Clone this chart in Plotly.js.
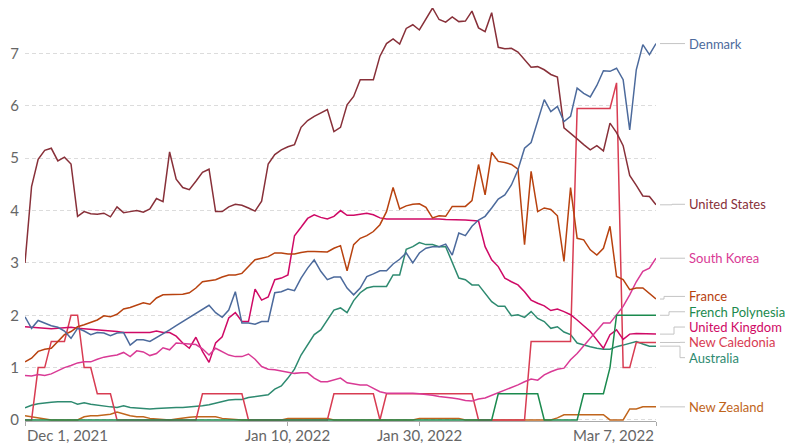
<!DOCTYPE html>
<html>
<head>
<meta charset="utf-8">
<script src="https://cdn.plot.ly/plotly-3.0.1.min.js"></script>
<style>
  html, body { margin: 0; padding: 0; background: #fff; }
  #chart { width: 786px; height: 443px; }
</style>
</head>
<body>
<div id="chart"></div>
<script>
// ---- data ----
const startDate = '2021-12-01';
const nDays = 97;

const countries = ['New Zealand', 'Australia', 'New Caledonia', 'United Kingdom', 'South Korea', 'France', 'French Polynesia', 'United States', 'Denmark'];

const denmark = [1.97,1.75,1.90,1.85,1.80,1.77,1.70,1.56,1.75,1.70,
1.63,1.67,1.66,1.61,1.66,1.67,1.43,1.53,1.53,1.50,
1.57,1.65,1.72,1.80,1.88,1.95,2.03,2.11,2.19,2.05,
1.96,2.10,2.45,1.85,1.85,1.83,1.88,1.88,2.43,2.45,
2.50,2.47,2.71,2.90,3.06,2.84,2.68,2.73,2.73,2.52,
2.39,2.52,2.74,2.79,2.85,2.85,2.98,3.07,3.19,3.00,
3.19,3.28,3.31,3.31,3.36,3.15,3.57,3.52,3.70,3.82,
3.89,4.05,4.22,4.30,4.49,4.78,5.19,5.30,5.70,6.12,
5.89,5.99,5.70,5.80,6.34,6.24,6.17,6.39,6.67,6.66,
6.72,6.50,5.54,6.69,7.17,6.98,7.19];

const unitedStates = [3.00,4.46,4.98,5.15,5.19,4.95,5.02,4.89,3.89,3.98,
3.94,3.93,3.95,3.88,4.07,3.96,3.98,4.00,3.97,4.03,
4.23,4.17,5.12,4.60,4.44,4.40,4.56,4.73,4.79,3.98,
3.98,4.07,4.12,4.10,4.05,3.99,4.18,4.89,5.07,5.16,
5.22,5.26,5.59,5.72,5.80,5.86,5.93,5.51,5.59,6.02,
6.18,6.50,6.50,6.50,6.95,7.19,7.28,7.18,7.48,7.55,
7.45,7.65,7.87,7.65,7.60,7.70,7.61,7.62,7.81,7.49,
7.42,7.78,7.12,7.09,7.10,7.03,6.88,6.74,6.75,6.69,
6.60,6.55,5.58,5.48,5.37,5.26,5.16,5.24,5.14,5.67,
5.49,5.24,4.67,4.48,4.28,4.27,4.11];

const southKorea = [0.85,0.84,0.87,0.85,0.88,0.94,1.00,1.04,1.09,1.11,
1.11,1.16,1.20,1.22,1.24,1.29,1.21,1.32,1.30,1.23,
1.27,1.38,1.34,1.47,1.46,1.45,1.44,1.36,1.24,1.37,
1.30,1.24,1.21,1.21,1.26,1.16,1.02,0.97,0.96,0.94,
0.92,0.89,0.90,0.90,0.80,0.73,0.73,0.76,0.80,0.71,
0.69,0.67,0.67,0.61,0.54,0.51,0.51,0.52,0.52,0.51,
0.50,0.49,0.47,0.45,0.44,0.42,0.40,0.37,0.36,0.40,
0.42,0.47,0.52,0.57,0.61,0.67,0.73,0.78,0.76,0.86,
0.92,0.97,0.99,1.15,1.27,1.41,1.56,1.69,1.85,1.85,
2.01,2.17,2.39,2.64,2.84,2.90,3.09];

const unitedKingdom = [1.78,1.77,1.76,1.75,1.74,1.75,1.76,1.77,1.75,1.74,
1.74,1.73,1.72,1.70,1.69,1.67,1.67,1.67,1.68,1.67,
1.70,1.67,1.67,1.60,1.47,1.37,1.58,1.31,1.10,1.47,
1.59,1.95,2.05,1.88,1.88,2.50,2.29,2.35,2.68,2.71,
2.77,3.52,3.68,3.85,3.92,3.87,3.84,3.89,4.00,3.91,
3.91,3.93,3.95,3.92,3.86,3.84,3.84,3.84,3.84,3.85,
3.84,3.84,3.85,3.84,3.83,3.83,3.82,3.82,3.81,3.80,
3.31,3.06,2.93,2.71,2.64,2.58,2.45,2.29,2.23,2.18,
2.09,2.12,2.07,2.01,1.91,1.80,1.69,1.53,1.37,1.63,
1.72,1.54,1.64,1.65,1.65,1.65,1.64];

const france = [1.11,1.18,1.31,1.35,1.37,1.50,1.63,1.69,1.78,1.82,
1.86,1.91,1.99,1.97,2.02,2.12,2.15,2.19,2.24,2.21,
2.33,2.39,2.39,2.39,2.40,2.43,2.52,2.64,2.66,2.68,
2.73,2.77,2.77,2.80,2.93,3.06,3.09,3.12,3.19,3.19,
3.17,3.17,3.20,3.22,3.22,3.22,3.21,3.28,3.33,2.85,
3.35,3.47,3.52,3.60,3.73,3.98,4.44,4.03,4.09,4.12,
4.13,4.06,3.86,3.90,3.89,4.08,4.08,4.08,4.19,4.88,
4.30,5.11,4.94,4.92,4.88,4.79,3.35,4.75,3.98,4.05,
4.02,3.90,3.03,4.44,3.47,3.44,3.25,3.15,3.28,3.70,
2.74,2.68,2.49,2.52,2.52,2.42,2.31];

const australia = [0.23,0.28,0.31,0.33,0.34,0.35,0.35,0.35,0.30,0.33,
0.30,0.28,0.26,0.25,0.24,0.27,0.24,0.23,0.21,0.21,
0.22,0.23,0.24,0.24,0.24,0.25,0.25,0.27,0.29,0.32,
0.35,0.38,0.39,0.39,0.43,0.45,0.46,0.48,0.59,0.65,
0.80,0.97,1.24,1.43,1.63,1.72,1.91,2.10,2.14,2.05,
2.28,2.43,2.52,2.55,2.55,2.55,2.77,2.77,3.26,3.31,
3.39,3.35,3.35,3.31,3.31,3.00,2.71,2.68,2.58,2.58,
2.42,2.26,2.17,2.17,1.99,2.01,1.96,2.07,1.94,1.88,
1.75,1.78,1.68,1.63,1.47,1.43,1.40,1.37,1.35,1.35,
1.40,1.43,1.46,1.50,1.45,1.41,1.41];

const frenchPolynesia = [0,0,0,0,0,0,0,0,0,0,
0,0,0,0,0,0,0,0,0,0,
0,0,0,0,0,0,0,0,0,0,
0,0,0,0,0,0,0,0,0,0,
0,0,0,0,0,0,0,0,0,0,
0,0,0,0,0,0,0,0,0,0,
0,0,0,0,0,0,0,0,0,0,
0,0,0.5,0.5,0.5,0.5,0.5,0.5,0.5,0,
0,0,0,0,0,0.5,0.5,0.5,0.5,1,
2,2,2,2,2,2,2];

const newCaledonia = [0,0,1,1,1.5,1.5,1.5,2,2,1,
1,0.5,0.5,0.5,0,0,0,0,0,0,
0,0,0,0,0,0,0,0.5,0.5,0.5,
0.5,0.5,0.5,0.5,0,0,0,0,0,0,
0,0,0,0,0,0,0,0.5,0.5,0.5,
0.5,0.5,0.5,0.5,0,0.5,0.5,0.5,0.5,0.5,
0.5,0.5,0.5,0.5,0.5,0.5,0.5,0.5,0.5,0,
0,0,0,0,0,0,0,1.5,1.5,1.5,
1.5,1.5,1.5,1.5,5.95,5.95,5.95,5.95,5.95,5.95,
6.44,1,1,1.48,1.48,1.48,1.48];

const newZealand = [0.08,0.06,0.04,0.02,0,0,0,0,0,0.06,
0.08,0.08,0.10,0.11,0.15,0.11,0.08,0.06,0.06,0.03,
0.02,0,0,0.02,0.04,0.05,0.06,0.06,0.06,0.06,
0.03,0.02,0,0,0,0,0,0,0,0,
0.03,0.03,0.03,0.03,0.03,0.03,0.03,0,0,0,
0,0,0,0,0,0,0,0,0,0,
0.03,0.03,0.03,0.03,0.03,0.03,0.03,0,0,0,
0,0,0,0,0,0,0,0,0,0,
0,0.04,0.10,0.10,0.10,0.10,0.10,0.10,0.10,0,
0,0,0.21,0.21,0.25,0.25,0.25];

const xTickDates = ['2021-12-01', '2022-01-10', '2022-01-30', '2022-03-07'];
const xTickLabels = ['Dec 1, 2021', 'Jan 10, 2022', 'Jan 30, 2022', 'Mar 7, 2022'];
const yTicks = [0, 1, 2, 3, 4, 5, 6, 7];

// ---- styling / layout helpers (not data) ----
const seriesList = [newZealand, australia, newCaledonia, unitedKingdom, southKorea, france, frenchPolynesia, unitedStates, denmark];
const colors = ['#C0651C', '#2E8A70', '#D83C52', '#CF0A66', '#D93A95', '#B8420F', '#1B8A4E', '#883039', '#4C6A9C'];
// label vertical positions (axis units) and elbow x in pixels
const labelPos = [0.25, 1.19, 1.483, 1.775, 3.09, 2.36, 2.067, 4.12, 7.19];
const elbowPx = [672, 680, 680, 674, 672, 664, 669, 672, 672];

const dates = [];
const t0 = Date.parse(startDate + 'T00:00:00Z');
for (let i = 0; i < nDays; i++) {
  dates.push(new Date(t0 + i * 86400000).toISOString().slice(0, 10));
}

const W = 786, H = 443;
const mL = 25, mR = 130, mT = 8, mB = 22;
const plotW = W - mL - mR;
const px2paper = p => (p - mL) / plotW;

const traces = seriesList.map((s, i) => ({
  type: 'scatter',
  mode: 'lines',
  x: dates,
  y: s,
  name: countries[i],
  line: { color: colors[i], width: 1.5 },
  hoverinfo: 'skip'
}));

const shapes = [];
const annotations = [];
seriesList.forEach((s, i) => {
  const yEnd = s[s.length - 1];
  const yLab = labelPos[i];
  const x0 = px2paper(660), xe = px2paper(elbowPx[i]), x1 = px2paper(685);
  shapes.push({
    type: 'path', xref: 'paper', yref: 'y',
    path: `M ${x0},${yEnd} L ${xe},${yEnd} L ${xe},${yLab} L ${x1},${yLab}`,
    line: { color: '#c4c4c4', width: 1 }
  });
  annotations.push({
    xref: 'paper', yref: 'y', x: px2paper(687), y: yLab,
    xanchor: 'left', yanchor: 'middle', showarrow: false,
    text: countries[i],
    font: { family: 'Lato, sans-serif', size: 13, color: colors[i] }
  });
});

const anchors = ['left', 'center', 'center', 'right'];
xTickDates.forEach((d, i) => {
  annotations.push({
    xref: 'x', yref: 'paper', x: d, y: 0,
    xanchor: anchors[i], yanchor: 'top', yshift: -3, showarrow: false,
    text: xTickLabels[i],
    font: { family: 'Lato, sans-serif', size: 15, color: '#666' }
  });
});

const layout = {
  width: W, height: H,
  margin: { l: mL, r: mR, t: mT, b: mB, pad: 0 },
  paper_bgcolor: '#fff', plot_bgcolor: '#fff',
  showlegend: false,
  font: { family: 'Lato, sans-serif', color: '#666' },
  xaxis: {
    type: 'date',
    range: [startDate, dates[dates.length - 1]],
    tickvals: xTickDates,
    showticklabels: false,
    ticks: 'outside', ticklen: 4, tickcolor: '#aaa',
    showgrid: false, zeroline: false,
    showline: true, linecolor: '#aaa', linewidth: 1
  },
  yaxis: {
    range: [-0.02, 7.87],
    tickvals: yTicks,
    ticks: '', ticklabelstandoff: 5,
    tickfont: { family: 'Lato, sans-serif', size: 15, color: '#666' },
    showgrid: true, gridcolor: '#dcdcdc', griddash: '4px,3px', gridwidth: 1,
    zeroline: false, showline: false
  },
  shapes: shapes,
  annotations: annotations
};

Plotly.newPlot('chart', traces, layout, { staticPlot: true, displayModeBar: false });
</script>
</body>
</html>
